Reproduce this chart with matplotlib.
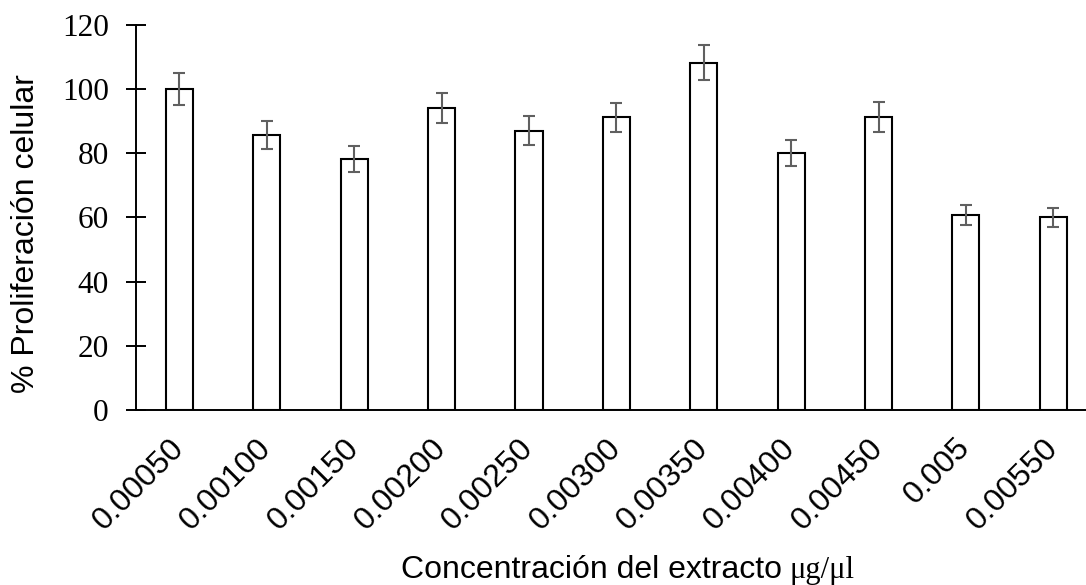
import matplotlib
matplotlib.use("Agg")
import matplotlib.pyplot as plt
import numpy as np

# concentraciones ensayadas (ug/ul) y % de proliferación
concentraciones = ["0.00050", "0.00100", "0.00150", "0.00200", "0.00250", "0.00300",
                   "0.00350", "0.00400", "0.00450", "0.005", "0.00550"]
proliferacion = [100.0, 85.6, 78.2, 93.9, 87.0, 91.1, 108.1, 80.1, 91.2, 60.7, 60.0]
error_std = [5.0, 4.3, 4.0, 4.7, 4.4, 4.6, 5.4, 4.0, 4.6, 3.0, 3.0]
yticks = [0, 20, 40, 60, 80, 100, 120]

SANS = "Liberation Sans"
SERIF = "Liberation Serif"

fig = plt.figure(figsize=(10.86, 5.85), dpi=100)
ax = fig.add_axes([0.125, 0.2991, 0.875, 0.659])

x = np.arange(len(concentraciones))
ax.bar(x, proliferacion, width=0.31, color="white", edgecolor="black",
       linewidth=1.5, zorder=2)
ax.errorbar(x, proliferacion, yerr=error_std, fmt="none", ecolor="#606060",
            elinewidth=1.5, capsize=4.3, capthick=1.5, zorder=3)

ax.set_xlim(-0.5, 10.374)
ax.set_ylim(0, 120)
ax.set_yticks(yticks)
ax.set_yticklabels([str(v) for v in yticks], fontfamily=SERIF, fontsize=22.5)
ax.tick_params(axis="y", direction="inout", length=13.7, width=1.4, pad=12.6)

ax.set_xticks(x)
ax.set_xticklabels(concentraciones, rotation=45, ha="right", va="center",
                   rotation_mode="anchor", fontfamily=SANS, fontsize=23)
ax.tick_params(axis="x", length=0, pad=24)

for side in ("top", "right"):
    ax.spines[side].set_visible(False)
ax.spines["left"].set_linewidth(1.4)
ax.spines["bottom"].set_linewidth(1.4)

# etiquetas de los ejes
fig.text(26.5 / 1086, 1 - 234 / 585, "% Proliferación celular", rotation=90,
         ha="center", va="center", fontfamily=SANS, fontsize=23)
y_base = 1 - 578 / 585
fig.text(782 / 1086, y_base, "Concentración del extracto", ha="right",
         va="baseline", fontfamily=SANS, fontsize=23)
fig.text(790 / 1086, y_base, "μg/μl", ha="left", va="baseline",
         fontfamily=SERIF, fontsize=22)

fig.savefig("out.png", dpi=100)
